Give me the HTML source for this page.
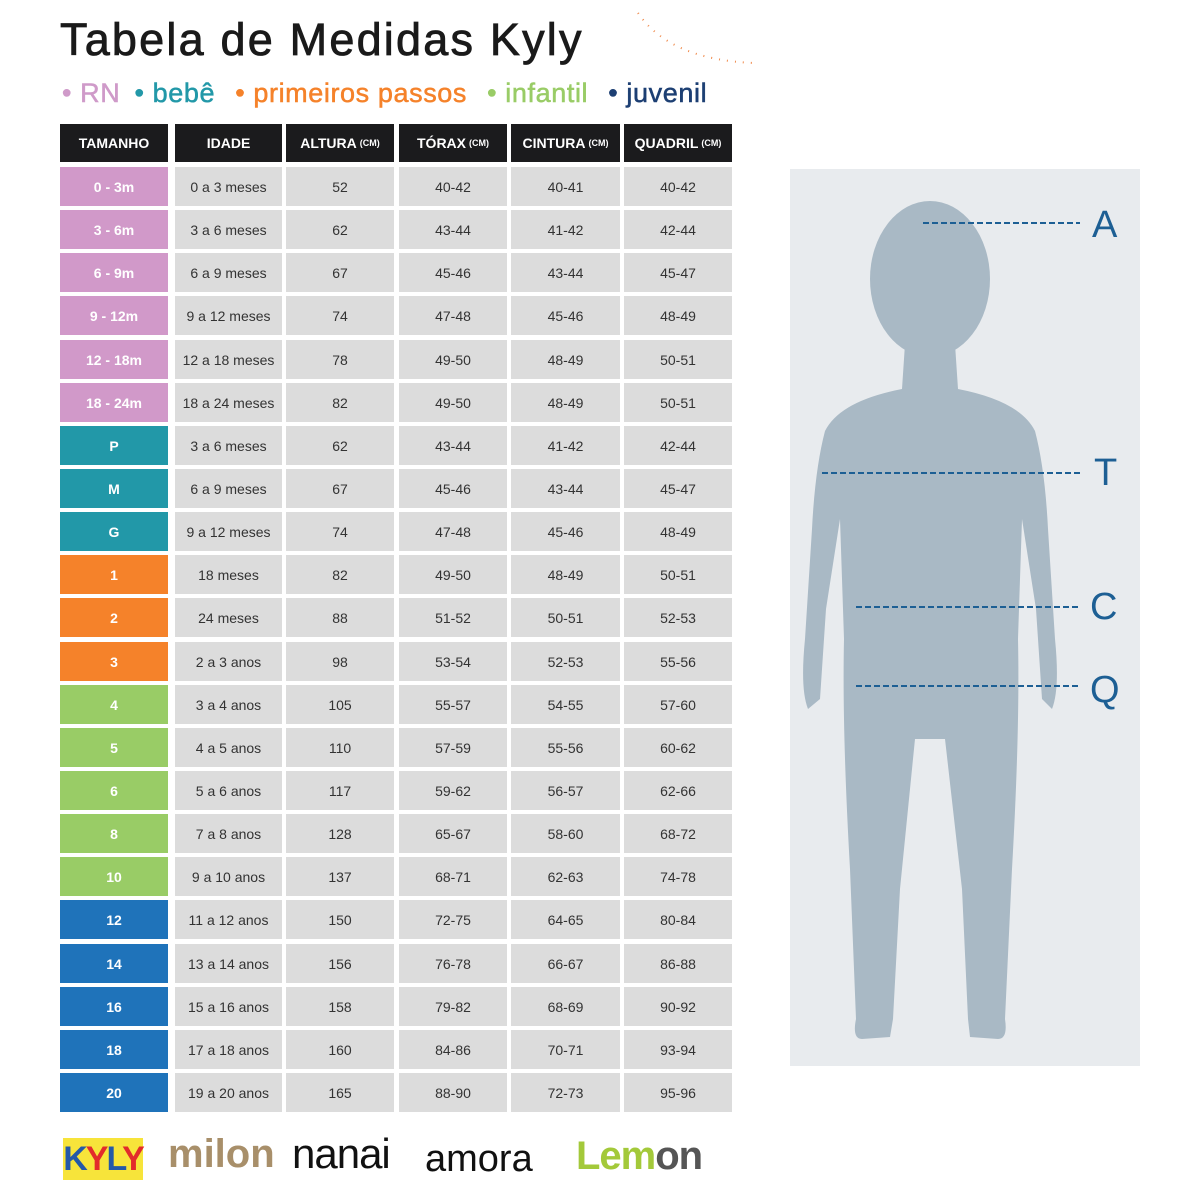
<!DOCTYPE html>
<html><head><meta charset="utf-8"><style>
body{margin:0;width:1200px;height:1200px;background:#fff;position:relative;font-family:"Liberation Sans",sans-serif;overflow:hidden}
.a{position:absolute}
.c{position:absolute;display:flex;align-items:center;justify-content:center;background:#dcdcdc;color:#333;font-size:14px;height:39px}
.h{background:#1b1b1d;color:#fff;font-weight:bold;font-size:14px;height:38px}
.h small{font-size:9px;margin-left:3px}
</style></head><body>
<div class="a" style="left:60px;top:14px;font-size:45px;color:#1a1a1a;letter-spacing:2.2px;-webkit-text-stroke:0.8px #1a1a1a">Tabela de Medidas Kyly</div>
<svg class="a" style="left:630px;top:5px" width="130" height="65"><path d="M8 8 Q40 55 125 58" fill="none" stroke="#f08a4b" stroke-width="2" stroke-dasharray="1 7"/></svg>
<div class="a" style="left:62px;top:78px;font-size:27px;white-space:nowrap;letter-spacing:0.6px;-webkit-text-stroke:0.5px currentColor">
<span style="color:#cf9ac9">• RN</span> <span style="color:#2298a8;margin-left:6px">• bebê</span> <span style="color:#f5822a;margin-left:12px">• primeiros passos</span> <span style="color:#99cc66;margin-left:12px">• infantil</span> <span style="color:#1d3f73;margin-left:12px">• juvenil</span></div>
<div id="tb"></div>
<svg class="a" style="left:790px;top:169px" width="350" height="897">
<rect width="350" height="897" fill="#e8ebee"/>
<g fill="#a9b9c5">
<ellipse cx="140" cy="110" rx="60" ry="78"/>
<path d="M115 175 L165 175 L168 220 Q230 232 245 262 Q255 300 258 360 L265 470 Q270 520 262 540 L252 530 L246 440 L232 350 L228 470 Q230 560 222 700 L215 850 Q218 870 208 870 L180 868 L178 850 L172 720 L155 570 L140 570 L125 570 L110 720 L103 850 L100 868 L72 870 Q62 870 66 850 L60 700 Q52 560 54 470 L50 350 L36 440 L30 530 L18 540 Q10 520 15 470 L22 360 Q25 300 35 262 Q50 232 112 220 Z"/>
</g>
<g stroke="#1d5f94" stroke-width="2" stroke-dasharray="6 3">
<line x1="133" y1="54" x2="290" y2="54"/><line x1="32" y1="304" x2="290" y2="304"/><line x1="66" y1="438" x2="290" y2="438"/><line x1="66" y1="517" x2="290" y2="517"/></g>
<g fill="#1d5f94" font-size="38" font-family="Liberation Sans">
<text x="302" y="68">A</text><text x="304" y="316">T</text><text x="300" y="450">C</text><text x="300" y="533">Q</text></g>
</svg>
<div class="a" style="left:63px;top:1138px;width:80px;height:42px;background:#f7e43a;font:bold 34px 'Liberation Sans';letter-spacing:-2px;line-height:42px;text-align:center"><span style="color:#2459a8">K</span><span style="color:#e22b2b">Y</span><span style="color:#2459a8">L</span><span style="color:#e22b2b">Y</span></div>
<div class="a" style="left:168px;top:1132px;font:bold 40px 'Liberation Sans';color:#a88f6a">milon</div>
<div class="a" style="left:292px;top:1130px;font:42px 'Liberation Sans';color:#111;letter-spacing:-1px">nanai</div>
<div class="a" style="left:425px;top:1138px;font:38px 'Liberation Sans';color:#111">amora</div>
<div class="a" style="left:576px;top:1134px;font:bold 40px 'Liberation Sans';color:#a3c93a;letter-spacing:-1px">Lem<span style="color:#555">on</span></div>
<script>
var X=[60,175,286,399,511,624],W=[108,107,108,108,109,108];
var hd=['TAMANHO','IDADE','ALTURA<small>(CM)</small>','TÓRAX<small>(CM)</small>','CINTURA<small>(CM)</small>','QUADRIL<small>(CM)</small>'];
var s='';for(var i=0;i<6;i++)s+='<div class="c h" style="left:'+X[i]+'px;top:124px;width:'+W[i]+'px">'+hd[i]+'</div>';
var cP='#d199c9',cT='#2298a8',cO='#f5822a',cG='#99cc66',cB='#1f73ba';
var R=[[cP,'0 - 3m','0 a 3 meses',52,'40-42','40-41','40-42'],[cP,'3 - 6m','3 a 6 meses',62,'43-44','41-42','42-44'],[cP,'6 - 9m','6 a 9 meses',67,'45-46','43-44','45-47'],[cP,'9 - 12m','9 a 12 meses',74,'47-48','45-46','48-49'],[cP,'12 - 18m','12 a 18 meses',78,'49-50','48-49','50-51'],[cP,'18 - 24m','18 a 24 meses',82,'49-50','48-49','50-51'],[cT,'P','3 a 6 meses',62,'43-44','41-42','42-44'],[cT,'M','6 a 9 meses',67,'45-46','43-44','45-47'],[cT,'G','9 a 12 meses',74,'47-48','45-46','48-49'],[cO,'1','18 meses',82,'49-50','48-49','50-51'],[cO,'2','24 meses',88,'51-52','50-51','52-53'],[cO,'3','2 a 3 anos',98,'53-54','52-53','55-56'],[cG,'4','3 a 4 anos',105,'55-57','54-55','57-60'],[cG,'5','4 a 5 anos',110,'57-59','55-56','60-62'],[cG,'6','5 a 6 anos',117,'59-62','56-57','62-66'],[cG,'8','7 a 8 anos',128,'65-67','58-60','68-72'],[cG,'10','9 a 10 anos',137,'68-71','62-63','74-78'],[cB,'12','11 a 12 anos',150,'72-75','64-65','80-84'],[cB,'14','13 a 14 anos',156,'76-78','66-67','86-88'],[cB,'16','15 a 16 anos',158,'79-82','68-69','90-92'],[cB,'18','17 a 18 anos',160,'84-86','70-71','93-94'],[cB,'20','19 a 20 anos',165,'88-90','72-73','95-96']];
for(var r=0;r<22;r++){var y=Math.round(167+r*43.14);for(var i=0;i<6;i++){var st=i==0?'background:'+R[r][0]+';color:#fff;font-weight:bold;':'';s+='<div class="c" style="'+st+'left:'+X[i]+'px;top:'+y+'px;width:'+W[i]+'px">'+R[r][i+1]+'</div>';}}
document.getElementById('tb').innerHTML=s;
</script>
</body></html>
